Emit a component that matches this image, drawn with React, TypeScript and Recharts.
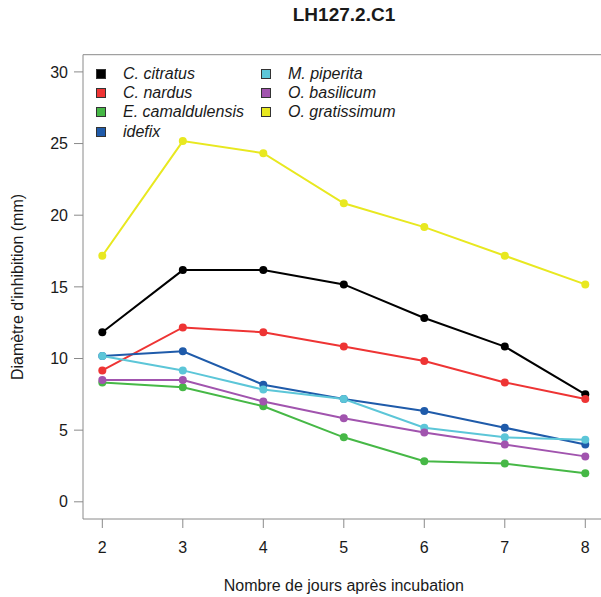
import React from "react";
import {
  LineChart,
  Line,
  XAxis,
  YAxis,
  ReferenceLine,
  Label,
} from "recharts";

const days = [2, 3, 4, 5, 6, 7, 8];

const citratus = [11.83, 16.17, 16.17, 15.17, 12.83, 10.83, 7.5];
const nardus = [9.17, 12.17, 11.83, 10.83, 9.83, 8.33, 7.17];
const camaldulensis = [8.33, 8.0, 6.67, 4.5, 2.83, 2.67, 2.0];
const idefix = [10.17, 10.5, 8.17, 7.17, 6.33, 5.17, 4.0];
const piperita = [10.17, 9.17, 7.83, 7.17, 5.17, 4.5, 4.33];
const basilicum = [8.5, 8.5, 7.0, 5.83, 4.83, 4.0, 3.17];
const gratissimum = [17.17, 25.17, 24.33, 20.83, 19.17, 17.17, 15.17];

const yTicks = [0, 5, 10, 15, 20, 25, 30];

const series = [
  { key: "citratus", name: "C. citratus", color: "#000000", values: citratus },
  { key: "nardus", name: "C. nardus", color: "#EE3434", values: nardus },
  { key: "camaldulensis", name: "E. camaldulensis", color: "#46B846", values: camaldulensis },
  { key: "idefix", name: "idefix", color: "#1F5BAA", values: idefix },
  { key: "piperita", name: "M. piperita", color: "#5CC6D8", values: piperita },
  { key: "basilicum", name: "O. basilicum", color: "#A154AE", values: basilicum },
  { key: "gratissimum", name: "O. gratissimum", color: "#E8E820", values: gratissimum },
];

const data = days.map((d, i) => {
  const row: Record<string, number> = { day: d };
  series.forEach((s) => {
    row[s.key] = s.values[i];
  });
  return row;
});

const FONT = "'Liberation Sans', Arial, sans-serif";
const AXIS = "#8a8a8a";
const TEXT = "#1a1a1a";

function LegendBlock() {
  const cols = [series.slice(0, 4), series.slice(4)];
  return (
    <div style={{ position: "absolute", left: 96, top: 64, display: "flex", fontFamily: FONT }}>
      {cols.map((col, ci) => (
        <div key={ci} style={{ width: ci === 0 ? 165 : 150 }}>
          {col.map((s) => (
            <div key={s.key} style={{ display: "flex", alignItems: "center", height: 19.4 }}>
              <span
                style={{
                  display: "inline-block",
                  width: 10,
                  height: 10,
                  background: s.color,
                  border: "1px solid #333",
                  boxSizing: "border-box",
                  marginRight: 17,
                }}
              />
              <span style={{ fontStyle: "italic", fontSize: 16, color: TEXT }}>{s.name}</span>
            </div>
          ))}
        </div>
      ))}
    </div>
  );
}

export default function App() {
  return (
    <div
      style={{
        position: "absolute",
        left: 0,
        top: 0,
        width: 601,
        height: 597,
        overflow: "hidden",
        background: "#fff",
        fontFamily: FONT,
      }}
    >
      <div
        style={{
          position: "absolute",
          left: 0,
          width: 688,
          top: 4,
          textAlign: "center",
          fontWeight: "bold",
          fontSize: 19,
          color: TEXT,
        }}
      >
        LH127.2.C1
      </div>
      <LineChart
        width={620}
        height={597}
        data={data}
        margin={{ top: 54.7, right: 15.4, bottom: 0, left: 0 }}
      >
        <XAxis
          dataKey="day"
          type="number"
          domain={[1.76, 8.24]}
          ticks={days}
          allowDataOverflow
          height={78}
          stroke={AXIS}
          tickSize={9}
          tickMargin={14}
          tick={{ fill: TEXT, fontSize: 16, fontFamily: FONT }}
        >
          <Label
            content={() => (
              <text
                x={343.8}
                y={591}
                textAnchor="middle"
                fontSize={16}
                fontFamily={FONT}
                fill={TEXT}
              >
                Nombre de jours après incubation
              </text>
            )}
          />
        </XAxis>
        <YAxis
          type="number"
          domain={[-1.2, 31.2]}
          ticks={yTicks}
          allowDataOverflow
          width={83}
          stroke={AXIS}
          tickSize={9}
          tickMargin={6}
          tick={{ fill: TEXT, fontSize: 16, fontFamily: FONT }}
        >
          <Label
            content={() => (
              <text
                x={23}
                y={287}
                transform="rotate(-90 23 287)"
                textAnchor="middle"
                fontSize={16}
                fontFamily={FONT}
                fill={TEXT}
              >
                Diamètre d'inhibition (mm)
              </text>
            )}
          />
        </YAxis>
        <ReferenceLine y={31.2} stroke={AXIS} ifOverflow="visible" />
        <ReferenceLine x={8.24} stroke={AXIS} ifOverflow="visible" />
        {series.map((s) => (
          <Line
            key={s.key}
            dataKey={s.key}
            name={s.name}
            type="linear"
            stroke={s.color}
            strokeWidth={2}
            dot={{ r: 4, fill: s.color, stroke: s.color, strokeWidth: 0 }}
            isAnimationActive={false}
          />
        ))}
      </LineChart>
      <LegendBlock />
    </div>
  );
}
